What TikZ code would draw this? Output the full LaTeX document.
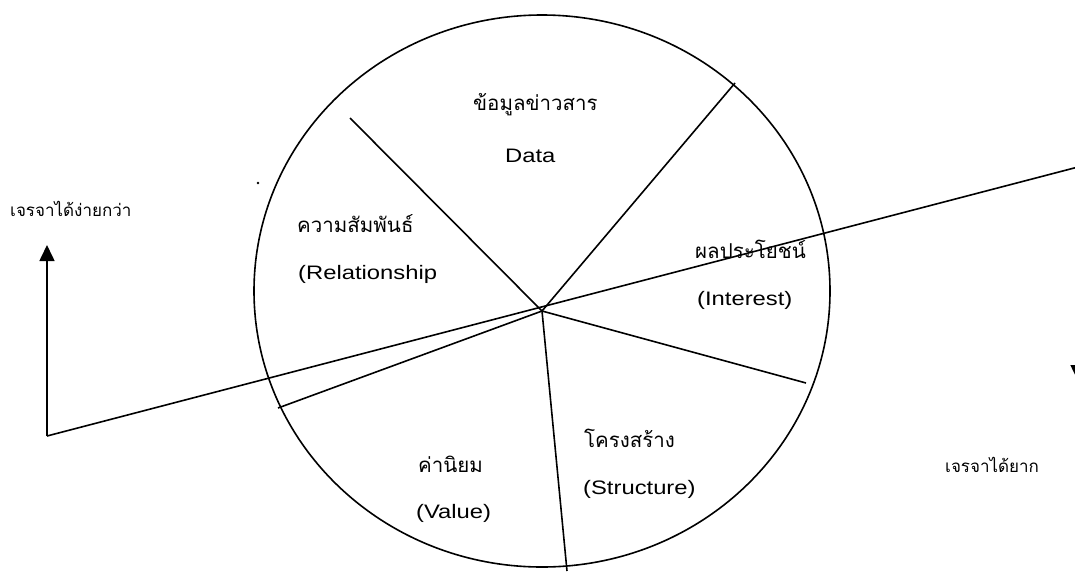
\documentclass[tikz,border=0pt]{standalone}
\usepackage{fontspec}
\setmainfont{Liberation Sans}
\newfontfamily\lat[FakeStretch=1.22]{Liberation Sans}
\newfontfamily\thai[Script=Thai]{Loma}
\usetikzlibrary{arrows.meta}
\tikzset{
  lbl/.style={anchor=base west, inner sep=0pt, font=\lat\fontsize{19.5}{22}\selectfont},
  tlbl/.style={anchor=base west, inner sep=0pt, font=\thai\fontsize{20.5}{24}\selectfont},
  slbl/.style={anchor=base west, inner sep=0pt, font=\thai\fontsize{17}{20}\selectfont},
  ln/.style={line width=1.6pt},
  tip/.style={-{Triangle[width=15pt,length=16pt]}}
}
\begin{document}
\begin{tikzpicture}[x=1pt,y=-1pt]
\useasboundingbox (0,0) rectangle (1075,571);
\clip (0,0) rectangle (1075,571);
% circle
\coordinate (c) at (542,291);
\draw[ln] (c) ellipse [x radius=288, y radius=276];
% hub and spoke ends
\coordinate (h) at (542,311);
\coordinate (s1) at (350,118);
\coordinate (s2) at (735,83);
\coordinate (s3) at (806,383);
\coordinate (s4) at (567,571);
\coordinate (s5) at (278,408);
\draw[ln] (s1) -- (h) -- (s2);
\draw[ln] (s3) -- (h) -- (s4);
\draw[ln] (s5) -- (h);
% long line and arrows
\coordinate (L0) at (47,436);
\coordinate (L1) at (47,245);
\coordinate (R0) at (1078,167);
\coordinate (R1) at (1078,381);
\draw[ln] (L0) -- (R0);
\draw[ln,tip] (L0) -- (L1);
\draw[ln,tip] (R0) -- (R1);
% dot
\fill (258,183) circle (1.3);
% labels
\node[tlbl] (t1) at (473,110) {ข้อมูลข่าวสาร};
\node[lbl] (e1) at (505,162) {Data};
\node[tlbl] (t2) at (297,232) {ความสัมพันธ์};
\node[lbl] (e2) at (298,279) {(Relationship};
\node[tlbl] (t3) at (695,258) {ผลประโยชน์};
\node[lbl] (e3) at (697,305) {(Interest)};
\node[tlbl] (t4) at (418,472) {ค่านิยม};
\node[lbl] (e4) at (416,518) {(Value)};
\node[tlbl] (t5) at (584,447) {โครงสร้าง};
\node[lbl] (e5) at (583,494) {(Structure)};
\node[slbl] (t6) at (10,216) {เจรจาได้ง่ายกว่า};
\node[slbl] (t7) at (945,472) {เจรจาได้ยาก};
\end{tikzpicture}
\end{document}
